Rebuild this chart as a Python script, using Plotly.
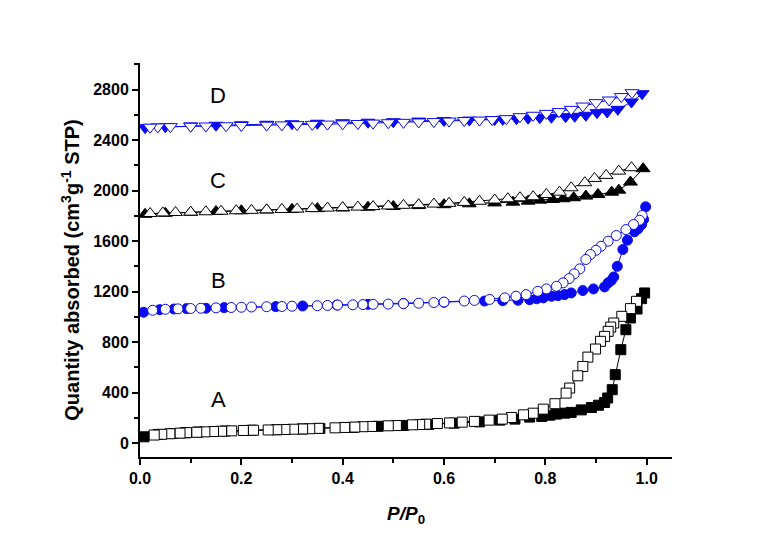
import plotly.graph_objects as go

# ---------------- data ----------------
# Sample A (black squares)
A_ads_x = [0.008, 0.036, 0.066, 0.089, 0.115, 0.168, 0.22, 0.27, 0.32, 0.355, 0.42, 0.47, 0.52, 0.57, 0.62,
           0.67, 0.71, 0.74, 0.769, 0.793, 0.809, 0.822, 0.838, 0.851, 0.871, 0.891, 0.905, 0.917, 0.923,
           0.932, 0.938, 0.949, 0.959, 0.968, 0.981, 0.99, 0.996]
A_ads_y = [50, 68, 76, 82, 88, 96, 102, 106, 112, 116, 124, 133, 140, 148, 158,
           168, 182, 190, 206, 211, 221, 230, 237, 243, 263, 282, 300, 322, 357,
           423, 542, 740, 898, 991, 1062, 1144, 1189]
A_des_x = [0.98, 0.968, 0.951, 0.935, 0.929, 0.924, 0.917, 0.909, 0.899, 0.884, 0.874, 0.864, 0.848, 0.841,
           0.819, 0.796, 0.776, 0.757, 0.733, 0.715, 0.689, 0.66, 0.636, 0.611, 0.587, 0.564, 0.552, 0.538,
           0.506, 0.49, 0.457, 0.44, 0.424, 0.404, 0.385, 0.352, 0.335, 0.321, 0.303, 0.286, 0.27, 0.253,
           0.224, 0.204, 0.181, 0.161, 0.145, 0.128, 0.112, 0.092, 0.079, 0.059, 0.043, 0.028]
A_des_y = [1123, 1065, 1004, 951, 919, 885, 845, 806, 745, 681, 607, 533, 436, 396,
           312, 269, 237, 224, 203, 190, 182, 172, 166, 160, 155, 150, 147, 145,
           139, 137, 132, 130, 127, 124, 121, 117, 114, 112, 110, 108, 106, 104,
           102, 100, 97, 94, 92, 89, 86, 83, 79, 74, 70, 64]

# Sample B (blue circles)
B_ads_x = [0.007, 0.039, 0.067, 0.092, 0.13, 0.166, 0.268, 0.321, 0.389, 0.45, 0.52, 0.6, 0.68, 0.716,
           0.746, 0.769, 0.783, 0.796, 0.812, 0.825, 0.838, 0.851, 0.874, 0.895, 0.917, 0.924, 0.93,
           0.935, 0.942, 0.953, 0.962, 0.976, 0.983, 0.99, 0.994, 0.998]
B_ads_y = [1036, 1057, 1062, 1065, 1068, 1073, 1081, 1086, 1094, 1099, 1105, 1115, 1125, 1128,
           1131, 1136, 1143, 1150, 1163, 1168, 1176, 1189, 1208, 1221, 1237, 1269, 1287,
           1316, 1400, 1533, 1607, 1673, 1697, 1731, 1771, 1871]
B_des_x = [0.991, 0.986, 0.974, 0.959, 0.94, 0.924, 0.91, 0.9, 0.889, 0.88, 0.868, 0.857, 0.847, 0.835,
           0.822, 0.802, 0.785, 0.762, 0.742, 0.72, 0.69, 0.66, 0.64, 0.6, 0.58, 0.55, 0.52, 0.49, 0.46,
           0.44, 0.42, 0.39, 0.37, 0.35, 0.3, 0.28, 0.25, 0.22, 0.2, 0.18, 0.15, 0.12, 0.1, 0.075, 0.05, 0.025]
B_des_y = [1802, 1765, 1731, 1691, 1644, 1599, 1559, 1527, 1493, 1454, 1380, 1340, 1303, 1269,
           1242, 1221, 1202, 1176, 1163, 1150, 1138, 1130, 1125, 1117, 1113, 1108, 1104, 1101, 1099,
           1097, 1095, 1093, 1090, 1088, 1084, 1082, 1080, 1078, 1076, 1074, 1071, 1068, 1066, 1063, 1060, 1052]

# Sample C (black up-triangles)
C_ads_x = [0.01, 0.05, 0.1, 0.15, 0.2, 0.25, 0.3, 0.35, 0.4, 0.45, 0.5, 0.55, 0.6, 0.65, 0.7, 0.736,
           0.766, 0.789, 0.814, 0.835, 0.856, 0.88, 0.904, 0.931, 0.945, 0.968, 0.993]
C_ads_y = [1812, 1820, 1827, 1834, 1840, 1846, 1851, 1857, 1862, 1868, 1874, 1881, 1888, 1895, 1902, 1908,
           1916, 1924, 1929, 1935, 1943, 1956, 1969, 1987, 2003, 2067, 2173]
C_des_x = [0.97, 0.945, 0.92, 0.897, 0.878, 0.851, 0.828, 0.802, 0.776, 0.75, 0.726, 0.7, 0.67, 0.64,
           0.61, 0.58, 0.55, 0.52, 0.49, 0.46, 0.43, 0.4, 0.37, 0.34, 0.31, 0.28, 0.25, 0.22, 0.19,
           0.16, 0.13, 0.1, 0.07, 0.045, 0.02]
C_des_y = [2181, 2154, 2120, 2096, 2062, 2022, 1987, 1969, 1951, 1943, 1935, 1925, 1915, 1906,
           1899, 1893, 1888, 1883, 1878, 1873, 1869, 1865, 1861, 1857, 1853, 1850, 1847, 1843, 1840,
           1836, 1832, 1829, 1826, 1823, 1818]

# Sample D (blue down-triangles)
D_ads_x = [0.01, 0.05, 0.1, 0.15, 0.2, 0.25, 0.3, 0.35, 0.4, 0.45, 0.5, 0.55, 0.6, 0.65, 0.7, 0.716,
           0.743, 0.766, 0.789, 0.812, 0.84, 0.858, 0.88, 0.902, 0.922, 0.943, 0.97, 0.991]
D_ads_y = [2498, 2505, 2512, 2517, 2521, 2525, 2529, 2533, 2537, 2541, 2545, 2550, 2554, 2558, 2562, 2564,
           2569, 2573, 2577, 2580, 2585, 2588, 2596, 2617, 2622, 2643, 2701, 2767]
D_des_x = [0.971, 0.95, 0.926, 0.9, 0.874, 0.851, 0.827, 0.802, 0.776, 0.75, 0.723, 0.695, 0.67, 0.64,
           0.61, 0.58, 0.55, 0.52, 0.49, 0.46, 0.43, 0.4, 0.37, 0.34, 0.31, 0.28, 0.25, 0.2, 0.17,
           0.13, 0.1, 0.06, 0.035, 0.02]
D_des_y = [2775, 2744, 2717, 2696, 2669, 2643, 2625, 2611, 2596, 2585, 2569, 2562, 2558, 2554,
           2550, 2546, 2543, 2540, 2537, 2534, 2531, 2528, 2526, 2524, 2522, 2520, 2518, 2515, 2513,
           2511, 2509, 2506, 2504, 2502]

labels = ["A", "B", "C", "D"]
label_x = [0.154, 0.154, 0.154, 0.154]
label_y = [343, 1288, 2081, 2754]

# ---------------- figure ----------------
BLACK = "#000000"
BLUE = "#0a0af0"
FONT = "Liberation Sans, Arial, sans-serif"

fig = go.Figure()

series = [
    (A_ads_x, A_ads_y, A_des_x, A_des_y, "square", BLACK, 10),
    (B_ads_x, B_ads_y, B_des_x, B_des_y, "circle", BLUE, 10),
    (C_ads_x, C_ads_y, C_des_x, C_des_y, "triangle-up", BLACK, 12),
    (D_ads_x, D_ads_y, D_des_x, D_des_y, "triangle-down", BLUE, 12),
]

for ax, ay, dx, dy, sym, col, sz in series:
    fig.add_trace(go.Scatter(
        x=ax, y=ay, mode="lines+markers",
        line=dict(color=col, width=1),
        marker=dict(symbol=sym, size=sz, color=col, line=dict(color=col, width=1)),
        showlegend=False, hoverinfo="skip"))
    fig.add_trace(go.Scatter(
        x=dx, y=dy, mode="lines+markers",
        line=dict(color=col, width=1),
        marker=dict(symbol=sym, size=sz, color="white", line=dict(color=col, width=1)),
        showlegend=False, hoverinfo="skip"))

for t, lx, ly in zip(labels, label_x, label_y):
    fig.add_annotation(x=lx, y=ly, text=t, showarrow=False,
                       font=dict(family=FONT, size=22, color="black"))

# axis titles as annotations for precise placement
fig.add_annotation(xref="paper", yref="paper", x=-0.13, y=0.475, textangle=-90,
                   xanchor="center", yanchor="middle",
                   text="<b>Quantity absorbed (cm<sup>3</sup>g<sup>-1</sup> STP)</b>",
                   showarrow=False, font=dict(family=FONT, size=20, color="black"))
fig.add_annotation(xref="paper", yref="paper", x=0.5, y=-0.147,
                   xanchor="center", yanchor="middle",
                   text="<b><i>P/P</i><sub>0</sub></b>",
                   showarrow=False, font=dict(family=FONT, size=19, color="black"))

axis_common = dict(
    showline=True, linecolor="black", linewidth=2,
    ticks="outside", ticklen=6, tickwidth=2, tickcolor="black",
    showgrid=False, zeroline=False,
    tickfont=dict(family=FONT, size=16, color="black", weight="bold"),
)

fig.update_xaxes(range=[0, 1.05], dtick=0.2, tick0=0, tickformat=".1f",
                 minor=dict(dtick=0.1, ticks="outside", ticklen=4, tickwidth=2, tickcolor="black"),
                 **axis_common)
fig.update_yaxes(range=[-110, 3010], dtick=400, tick0=0,
                 minor=dict(dtick=200, ticks="outside", ticklen=4, tickwidth=2, tickcolor="black"),
                 **axis_common)

fig.update_layout(
    width=773, height=541,
    margin=dict(l=132, r=109, t=55, b=92),
    plot_bgcolor="white", paper_bgcolor="white",
    font=dict(family=FONT, color="black"),
    showlegend=False,
)

fig.write_html("out.html")
